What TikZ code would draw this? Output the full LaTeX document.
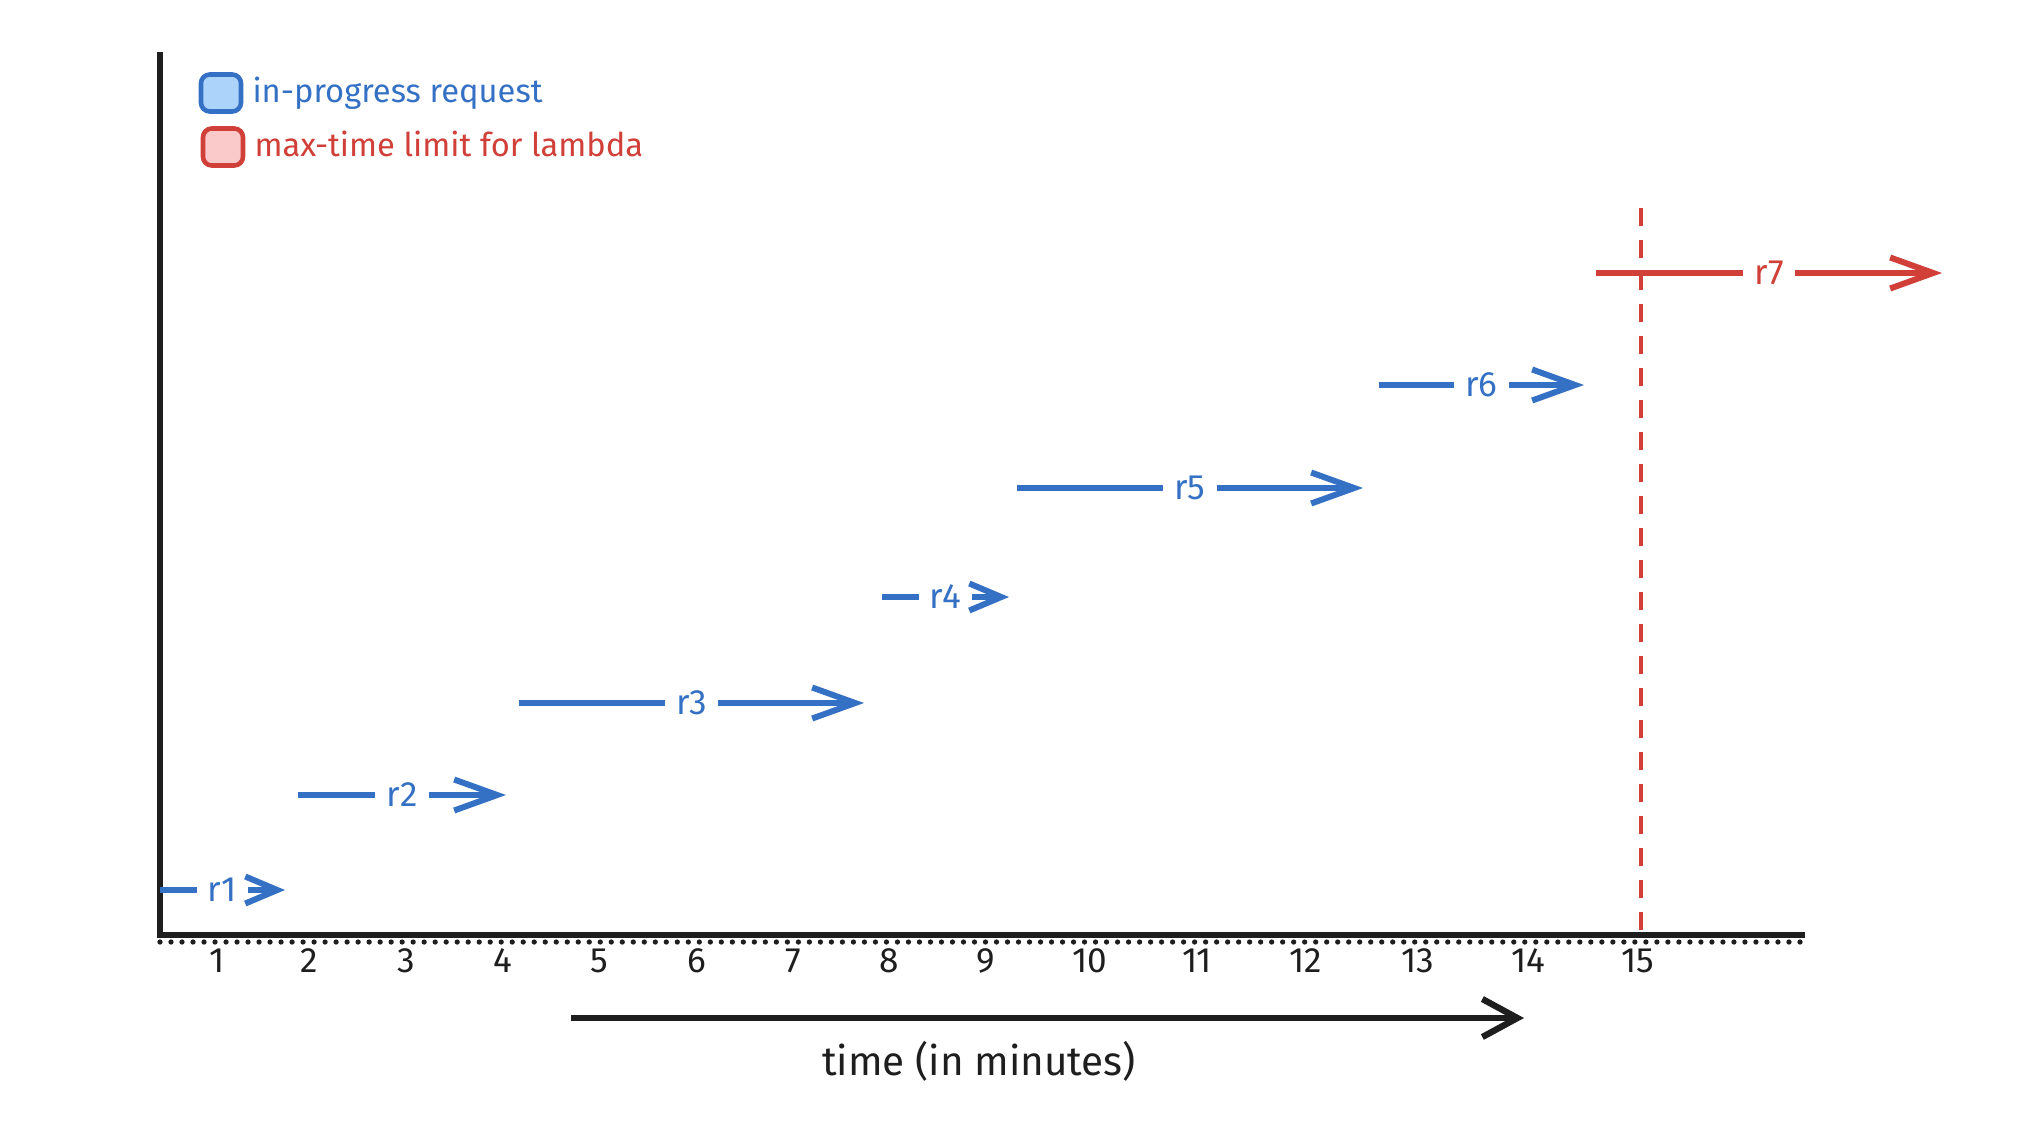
\documentclass[tikz,border=0pt]{standalone}
\usepackage{fontspec}
\setmainfont{Fira Sans}
\usetikzlibrary{arrows.meta, positioning, calc}
\usepackage{xcolor}
\definecolor{reqblue}{RGB}{52,112,196}
\definecolor{reqfill}{RGB}{172,212,250}
\definecolor{limitred}{RGB}{208,64,56}
\definecolor{limitfill}{RGB}{250,202,202}
\definecolor{ink}{RGB}{30,30,30}

\begin{document}
\begin{tikzpicture}[
    x=0.01cm, y=-0.01cm,
    axis/.style = {draw=ink, line width=1.6pt},
    dots/.style = {draw=ink, line width=1.5pt, line cap=round, dash pattern=on 0pt off 0.11cm},
    reqline/.style = {draw=reqblue, line width=1.7pt},
    request/.style = {reqline, -{Straight Barb[length=4.3mm, width=3.1mm]}},
    shortreq/.style = {reqline, -{Straight Barb[length=3.2mm, width=2.7mm]}},
    limitline/.style = {reqline, draw=limitred},
    overlimit/.style = {request, draw=limitred},
    reqlabel/.style = {text=reqblue, font=\fontsize{10}{12}\selectfont, inner xsep=3pt, inner ysep=1pt},
    limitlabel/.style = {reqlabel, text=limitred},
    ticklabel/.style = {text=ink, font=\fontsize{10}{12}\selectfont, inner sep=0pt},
    keybox/.style = {rectangle, rounded corners=2.5pt, line width=1.3pt, minimum width=0.4cm, minimum height=0.37cm, inner sep=0pt},
    keytext/.style = {font=\fontsize{9.3}{11}\selectfont, inner sep=1pt, right=0.05cm of #1}
]
\useasboundingbox (0,0) rectangle (2034,1124);

% legend
\node (bluekey) [keybox, draw=reqblue, fill=reqfill] at (221,93) {};
\node (bluetext) [keytext=bluekey, text=reqblue] {in-progress request};
\node (redkey) [keybox, draw=limitred, fill=limitfill] at (223,147) {};
\node (redtext) [keytext=redkey, text=limitred, yshift=1pt] {max-time limit for lambda};

% axes
\coordinate (ytop) at (160,52);
\coordinate (origin) at (160,935);
\coordinate (xend) at (1805,935);
\draw [axis] (ytop) -- (origin) -- (xend);
\coordinate (dotstart) at (160,942);
\coordinate (dotend) at (1802,942);
\draw [dots] (dotstart) -- (dotend);

\foreach \t/\x in {1/217, 2/309, 3/406, 4/503, 5/599, 6/697, 7/793, 8/889, 9/986, 10/1090, 11/1197, 12/1306, 13/1418, 14/1528, 15/1638}
    \node (tick\t) [ticklabel] at (\x,961) {\t};

% requests
\coordinate (r1s) at (160,890);  \coordinate (r1e) at (285,890);
\coordinate (r2s) at (298,795);  \coordinate (r2e) at (506,795);
\coordinate (r3s) at (519,703);  \coordinate (r3e) at (864,703);
\coordinate (r4s) at (882,597);  \coordinate (r4e) at (1009,597);
\coordinate (r5s) at (1017,488); \coordinate (r5e) at (1363,488);
\coordinate (r6s) at (1379,385); \coordinate (r6e) at (1584,385);
\coordinate (r7s) at (1596,273); \coordinate (r7e) at (1942,273);

\node (r1) [reqlabel] at ($(r1s)!0.5!(r1e)$) {r1};
\node (r2) [reqlabel] at ($(r2s)!0.5!(r2e)$) {r2};
\node (r3) [reqlabel] at ($(r3s)!0.5!(r3e)$) {r3};
\node (r4) [reqlabel] at ($(r4s)!0.5!(r4e)$) {r4};
\node (r5) [reqlabel] at ($(r5s)!0.5!(r5e)$) {r5};
\node (r6) [reqlabel] at ($(r6s)!0.5!(r6e)$) {r6};
\node (r7) [limitlabel] at ($(r7s)!0.5!(r7e)$) {r7};

\draw [reqline] (r1s) -- (r1);  \draw [shortreq] (r1) -- (r1e);
\draw [reqline] (r2s) -- (r2);  \draw [request] (r2) -- (r2e);
\draw [reqline] (r3s) -- (r3);  \draw [request] (r3) -- (r3e);
\draw [reqline] (r4s) -- (r4);  \draw [shortreq] (r4) -- (r4e);
\draw [reqline] (r5s) -- (r5);  \draw [request] (r5) -- (r5e);
\draw [reqline] (r6s) -- (r6);  \draw [request] (r6) -- (r6e);
\draw [limitline] (r7s) -- (r7);  \draw [overlimit] (r7) -- (r7e);

% lambda limit at 15 minutes
\coordinate (limtop) at (1641,208);
\coordinate (limbot) at (1641,944);
\draw [draw=limitred, line width=1.3pt, dash pattern=on 0.18cm off 0.14cm] (limtop) -- (limbot);

% time direction
\coordinate (timestart) at (571,1018);
\coordinate (timeend) at (1524,1018);
\draw [draw=ink, line width=1.8pt, -{Straight Barb[length=3.5mm, width=3.8mm]}] (timestart) -- (timeend);
\node (timelabel) [text=ink, font=\fontsize{11.5}{14}\selectfont] at (979,1061) {time (in minutes)};

\end{tikzpicture}
\end{document}
